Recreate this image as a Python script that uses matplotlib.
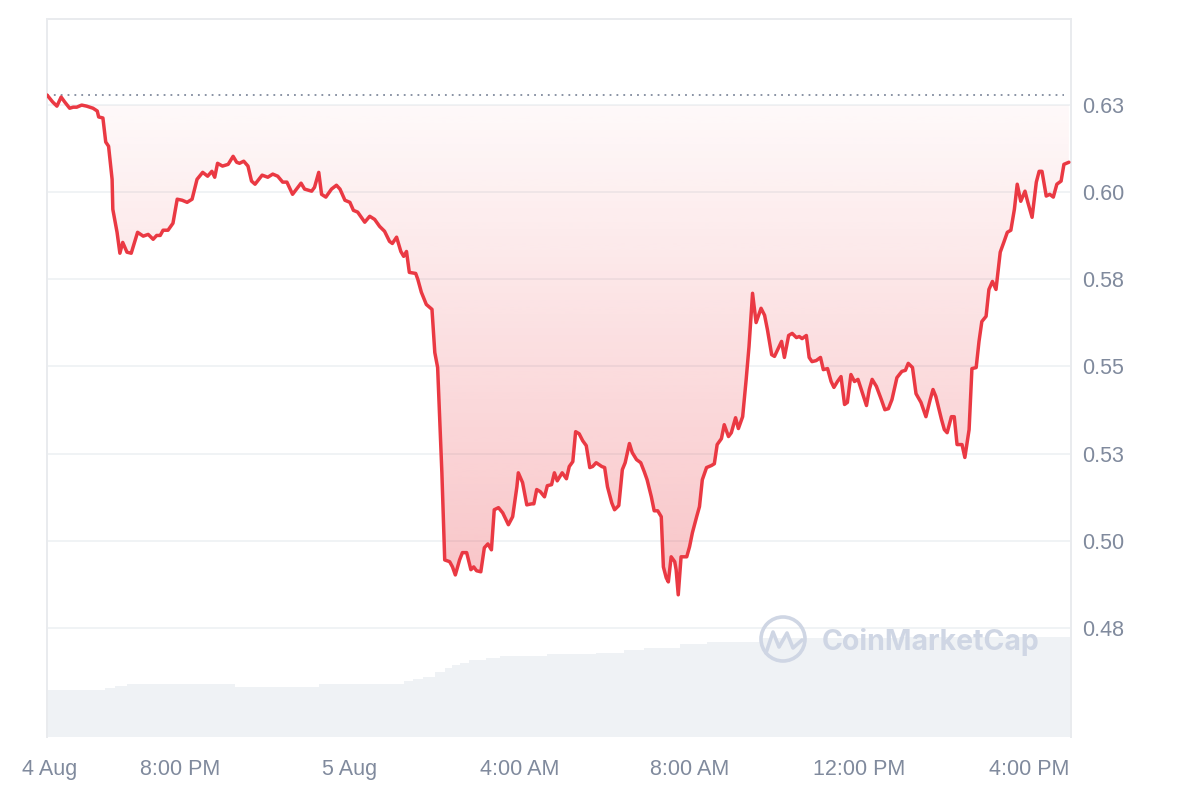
import datetime as dt

import matplotlib

matplotlib.use("Agg")

import matplotlib.dates as mdates
import matplotlib.pyplot as plt
import numpy as np
from matplotlib.lines import Line2D
from matplotlib.patches import Circle, Polygon

plt.rcParams["font.family"] = ["Liberation Sans", "DejaVu Sans"]

# 24h window, minutes counted from the first sample
start = dt.datetime(2024, 8, 4, 16, 52)
window_minutes = 1447

price_minutes = [
    0, 8, 14, 20, 25, 32, 37, 42, 49, 56, 65, 71, 73, 79, 83, 87, 92, 93, 99, 103,
    107, 113, 119, 128, 136, 143, 150, 155, 160, 164, 171, 178, 184, 191, 198, 205,
    212, 220, 227, 233, 237, 241, 248, 256, 263, 268, 272, 278, 284, 289, 294, 304,
    312, 319, 326, 333, 339, 347, 359, 364, 374, 378, 384, 388, 394, 402, 409, 414,
    421, 428, 433, 439, 449, 456, 463, 470, 477, 484, 488, 494, 500, 504, 508, 512,
    521, 524, 529, 536, 544, 548, 552, 558, 562, 569, 573, 577, 583, 587, 593, 599,
    603, 607, 613, 618, 623, 628, 632, 638, 644, 652, 658, 664, 666, 672, 678, 685,
    688, 692, 697, 703, 707, 713, 717, 721, 728, 734, 738, 743, 747, 752, 757, 762,
    767, 771, 776, 784, 788, 792, 798, 802, 808, 813, 817, 823, 827, 833, 839, 844,
    848, 854, 858, 863, 868, 871, 875, 878, 882, 887, 889, 892, 896, 904, 908, 912,
    918, 922, 926, 932, 939, 943, 947, 953, 957, 963, 967, 973, 977, 983, 988, 992,
    997, 1002, 1009, 1014, 1018, 1024, 1028, 1038, 1042, 1048, 1053, 1059, 1063, 1067,
    1073, 1077, 1081, 1087, 1093, 1097, 1103, 1108, 1112, 1117, 1122, 1127, 1131, 1136,
    1141, 1146, 1152, 1158, 1162, 1166, 1172, 1179, 1184, 1189, 1194, 1201, 1208, 1213,
    1217, 1223, 1228, 1235, 1242, 1248, 1252, 1256, 1264, 1268, 1272, 1278, 1282, 1286,
    1293, 1297, 1303, 1307, 1313, 1317, 1321, 1327, 1331, 1336, 1341, 1347, 1352, 1357,
    1362, 1367, 1371, 1376, 1382, 1386, 1392, 1398, 1402, 1406, 1412, 1417, 1422, 1427,
    1433, 1437, 1444,
]

price_values = [
    0.6279, 0.6259, 0.6247, 0.6273, 0.6259, 0.6241, 0.6244, 0.6244, 0.6250, 0.6247,
    0.6241, 0.6233, 0.6216, 0.6213, 0.6144, 0.6132, 0.6037, 0.5951, 0.5885, 0.5825,
    0.5856, 0.5828, 0.5825, 0.5885, 0.5874, 0.5879, 0.5865, 0.5876, 0.5876, 0.5891,
    0.5891, 0.5911, 0.5980, 0.5977, 0.5971, 0.5980, 0.6037, 0.6057, 0.6046, 0.6060,
    0.6043, 0.6083, 0.6075, 0.6080, 0.6103, 0.6086, 0.6083, 0.6089, 0.6075, 0.6032,
    0.6023, 0.6049, 0.6043, 0.6052, 0.6046, 0.6029, 0.6029, 0.5994, 0.6026, 0.6009,
    0.6003, 0.6014, 0.6057, 0.5994, 0.5986, 0.6009, 0.6020, 0.6009, 0.5977, 0.5971,
    0.5948, 0.5943, 0.5914, 0.5931, 0.5922, 0.5902, 0.5888, 0.5859, 0.5853, 0.5871,
    0.5830, 0.5816, 0.5830, 0.5770, 0.5767, 0.5750, 0.5713, 0.5678, 0.5664, 0.5540,
    0.5497, 0.5195, 0.4945, 0.4940, 0.4925, 0.4902, 0.4945, 0.4966, 0.4966, 0.4917,
    0.4925, 0.4914, 0.4911, 0.4980, 0.4991, 0.4974, 0.5089, 0.5095, 0.5080, 0.5046,
    0.5069, 0.5155, 0.5195, 0.5167, 0.5103, 0.5106, 0.5106, 0.5147, 0.5141, 0.5126,
    0.5158, 0.5161, 0.5195, 0.5172, 0.5195, 0.5178, 0.5213, 0.5227, 0.5313, 0.5307,
    0.5287, 0.5273, 0.5210, 0.5213, 0.5224, 0.5213, 0.5210, 0.5155, 0.5109, 0.5089,
    0.5101, 0.5204, 0.5224, 0.5279, 0.5253, 0.5233, 0.5224, 0.5198, 0.5175, 0.5126,
    0.5086, 0.5086, 0.5069, 0.4925, 0.4894, 0.4882, 0.4954, 0.4940, 0.4917, 0.4845,
    0.4954, 0.4954, 0.4983, 0.5023, 0.5069, 0.5098, 0.5175, 0.5210, 0.5216, 0.5221,
    0.5276, 0.5293, 0.5333, 0.5299, 0.5310, 0.5353, 0.5322, 0.5356, 0.5463, 0.5557,
    0.5710, 0.5626, 0.5667, 0.5647, 0.5606, 0.5534, 0.5529, 0.5572, 0.5526, 0.5589,
    0.5595, 0.5583, 0.5586, 0.5580, 0.5589, 0.5526, 0.5514, 0.5517, 0.5526, 0.5491,
    0.5494, 0.5457, 0.5440, 0.5457, 0.5471, 0.5391, 0.5397, 0.5477, 0.5457, 0.5463,
    0.5425, 0.5388, 0.5434, 0.5463, 0.5443, 0.5405, 0.5376, 0.5379, 0.5405, 0.5468,
    0.5486, 0.5489, 0.5509, 0.5497, 0.5422, 0.5397, 0.5356, 0.5405, 0.5434, 0.5414,
    0.5348, 0.5319, 0.5310, 0.5356, 0.5356, 0.5276, 0.5276, 0.5239, 0.5319, 0.5494,
    0.5497, 0.5572, 0.5629, 0.5644, 0.5721, 0.5744, 0.5721, 0.5828, 0.5856, 0.5885,
    0.5891, 0.5951, 0.6023, 0.5974, 0.6003, 0.5971, 0.5928, 0.6029, 0.6060, 0.6060,
    0.5989, 0.5994, 0.5986, 0.6023, 0.6032, 0.6080, 0.6086,
]

# rolling 24h volume (millions USD), step changes
volume_minutes = [0, 82, 96, 113, 265, 385, 505, 517, 531, 548, 562, 572, 583, 597,
                  621, 640, 706, 776, 816, 844, 894, 932, 1007, 1204, 1447]
volume_values = [4.7, 4.9, 5.1, 5.3, 5.0, 5.3, 5.6, 5.8, 6.0, 6.5, 6.9, 7.2, 7.4, 7.7,
                 7.9, 8.1, 8.3, 8.4, 8.7, 8.9, 9.3, 9.5, 9.9, 10.0, 10.0]

tick_times = [
    dt.datetime(2024, 8, 4, 16, 56),
    dt.datetime(2024, 8, 4, 20, 0),
    dt.datetime(2024, 8, 5, 0, 0),
    dt.datetime(2024, 8, 5, 4, 0),
    dt.datetime(2024, 8, 5, 8, 0),
    dt.datetime(2024, 8, 5, 12, 0),
    dt.datetime(2024, 8, 5, 16, 0),
]
tick_labels = ["4 Aug", "8:00 PM", "5 Aug", "4:00 AM", "8:00 AM", "12:00 PM", "4:00 PM"]

y_ticks = [0.475, 0.500, 0.525, 0.550, 0.575, 0.600, 0.625]
y_tick_labels = ["0.48", "0.50", "0.53", "0.55", "0.58", "0.60", "0.63"]

RED = "#ea3943"
GREY_TEXT = "#808a9d"
GRID = "#eff2f5"
FRAME = "#e9ebee"
VOLUME = "#eff2f5"
WATERMARK = "#cfd6e4"

price_times = [start + dt.timedelta(minutes=m) for m in price_minutes]
volume_times = [start + dt.timedelta(minutes=m) for m in volume_minutes]
end = start + dt.timedelta(minutes=window_minutes)
open_price = price_values[0]
fill_top = 0.625

fig = plt.figure(figsize=(12, 8), dpi=100, facecolor="white")
ax_vol = fig.add_axes([47 / 1200, 1 - 737 / 800, (1071 - 47) / 1200, (737 - 19) / 800])
ax = ax_vol.twinx()

# volume underlay
ax_vol.fill_between(volume_times, volume_values, 0, step="post", color=VOLUME, lw=0)
ax_vol.set_ylim(0, 71.8)
ax_vol.set_yticks([])
ax_vol.set_xlim(start, end)

# gradient fill under the price line
xs = mdates.date2num(price_times)
ys = np.minimum(np.array(price_values), fill_top)
verts = [(xs[0], fill_top)] + list(zip(xs, ys)) + [(xs[-1], fill_top)]
clip_poly = Polygon(verts, closed=True, facecolor="none", edgecolor="none")
ax.add_patch(clip_poly)

y_low = min(price_values)
n = 256
rgba = np.zeros((n, 1, 4))
rgba[..., 0] = 234 / 255
rgba[..., 1] = 57 / 255
rgba[..., 2] = 67 / 255
rgba[:, 0, 3] = np.linspace(0.30, 0.03, n)
im = ax.imshow(rgba, extent=[xs[0], xs[-1], y_low, fill_top], origin="lower",
               aspect="auto", zorder=1, interpolation="bilinear")
im.set_clip_path(clip_poly)

ax.plot(price_times, price_values, color=RED, lw=2.5, zorder=3,
        solid_joinstyle="round", solid_capstyle="round")
ax.hlines(open_price, start, start + dt.timedelta(minutes=1437), colors=GREY_TEXT,
          linestyles=(0, (1, 2.8)), lw=1.3, zorder=2)

ax.set_xlim(start, end)
ax.set_ylim(0.4437, 0.6497)
ax.set_yticks(y_ticks)
ax.set_yticklabels(y_tick_labels)
ax.grid(axis="y", color=GRID, lw=1.3, zorder=0)
ax.set_axisbelow(True)

ax_vol.set_xticks(tick_times)
ax_vol.set_xticklabels(tick_labels)
ax.tick_params(axis="y", length=0, pad=8, labelsize=15.5, labelcolor=GREY_TEXT)
ax_vol.tick_params(axis="x", length=0, pad=16, labelsize=15.5, labelcolor=GREY_TEXT)
ax.tick_params(axis="x", length=0, labelbottom=False)

for a in (ax, ax_vol):
    for side in ("top", "left", "right"):
        a.spines[side].set_color(FRAME)
        a.spines[side].set_linewidth(1.3)
    a.spines["bottom"].set_visible(False)
ax.patch.set_visible(False)

# CoinMarketCap watermark
logo_tr = fig.dpi_scale_trans
fig.add_artist(Circle((7.83, 1.61), 0.22, transform=logo_tr, fill=False,
                      edgecolor=WATERMARK, lw=2.6))
fig.add_artist(Line2D([7.66, 7.73, 7.79, 7.87, 7.93, 8.02],
                      [1.47, 1.68, 1.53, 1.67, 1.52, 1.60],
                      transform=logo_tr, color=WATERMARK, lw=2.6,
                      solid_joinstyle="round", solid_capstyle="round"))
fig.text(822 / 1200, 1 - 642 / 800, "CoinMarketCap", ha="left", va="center",
         fontsize=20.5, fontweight="bold", color=WATERMARK, family=["Inter", "DejaVu Sans"])

fig.savefig("out.png", dpi=100, facecolor="white")
